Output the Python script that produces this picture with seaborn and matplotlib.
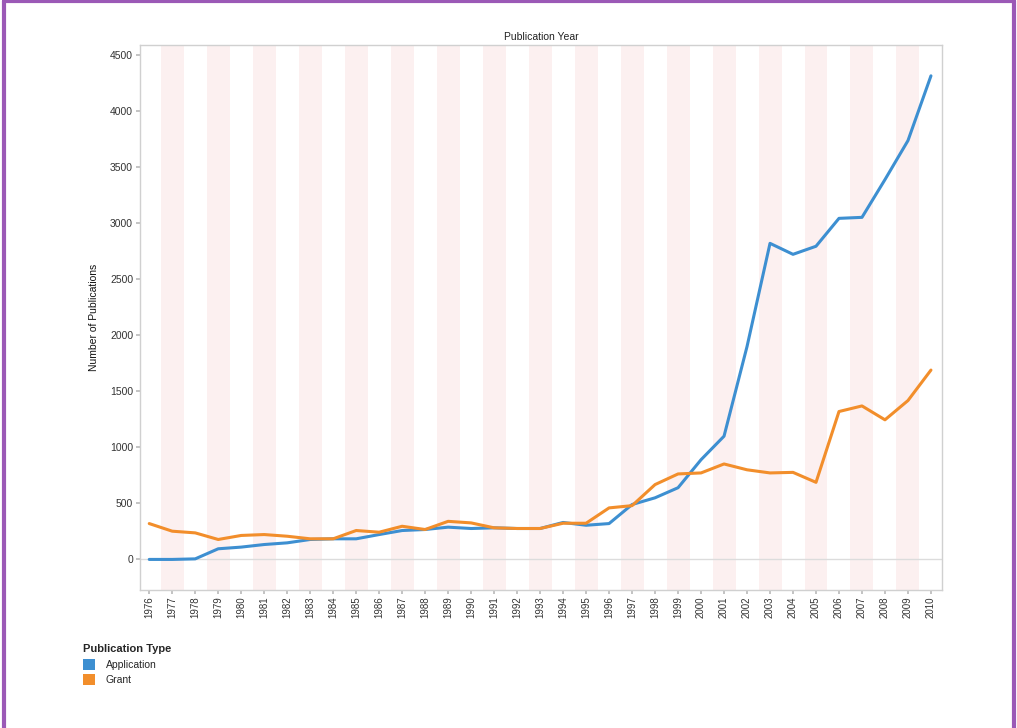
import numpy as np
import pandas as pd
import matplotlib
matplotlib.use('Agg')
import matplotlib.pyplot as plt
from matplotlib.patches import Patch
from matplotlib.lines import Line2D
import seaborn as sns

years = list(range(1976, 2011))
application = [0, 0, 5, 95, 110, 133, 148, 178, 184, 184, 222, 258, 267, 288, 276, 282, 276,
               276, 330, 305, 320, 490, 550, 640, 890, 1100, 1900, 2821, 2723, 2795, 3044,
               3053, 3390, 3738, 4316]
grant = [320, 252, 237, 178, 214, 222, 207, 184, 184, 258, 243, 296, 267, 340, 326, 282, 276,
         276, 323, 323, 460, 480, 668, 763, 772, 852, 800, 772, 777, 688, 1320, 1370, 1246,
         1418, 1690]
type_names = ['Application', 'Grant']
type_colors = ['#3d8fd1', '#f28e2b']
y_ticks = [0, 500, 1000, 1500, 2000, 2500, 3000, 3500, 4000, 4500]

df = pd.DataFrame({
    'Publication Year': years * 2,
    'Number of Publications': application + grant,
    'Publication Type': ['Application'] * len(years) + ['Grant'] * len(years),
})

sns.set_theme(style="white")
plt.rcParams['font.family'] = ['Liberation Sans', 'DejaVu Sans']

fig = plt.figure(figsize=(10.17, 7.28), dpi=100)
ax = fig.add_axes([0.1377, 0.19, 0.789, 0.748])

# alternating year bands
for i, yr in enumerate(years):
    if i % 2 == 1:
        ax.axvspan(yr - 0.5, yr + 0.5, color='#fcf0f0', lw=0, zorder=0)
ax.axhline(0, color='#dcdcdc', lw=1, zorder=1)

sns.lineplot(data=df, x='Publication Year', y='Number of Publications',
             hue='Publication Type', palette=dict(zip(type_names, type_colors)),
             linewidth=2.2, ax=ax, legend=False, zorder=3)

ax.set_xlim(1975.6, 2010.5)
ax.set_ylim(-270, 4590)
ax.set_xticks(years)
ax.set_xticklabels([str(y) for y in years], rotation=90, fontsize=7, color='#333333')
ax.set_yticks(y_ticks)
ax.set_yticklabels([str(v) for v in y_ticks], fontsize=7.5, color='#333333')
ax.tick_params(axis='both', length=3, color='#bbbbbb', pad=2)
ax.tick_params(axis='x', bottom=True)
ax.tick_params(axis='y', left=True)
ax.set_xlabel('')
ax.set_ylabel('Number of Publications', fontsize=7.5, color='#111111', labelpad=8)
ax.set_title('Publication Year', fontsize=7.5, color='#222222', pad=4)
for s in ax.spines.values():
    s.set_color('#d0d0d0')
    s.set_linewidth(1)

handles = [Patch(facecolor=c, edgecolor='none', label=n) for n, c in zip(type_names, type_colors)]
leg = fig.legend(handles=handles, title='Publication Type', loc='upper left',
                 bbox_to_anchor=(0.072, 0.128), frameon=False, fontsize=7.5,
                 title_fontsize=8, handlelength=1.2, handleheight=1.2,
                 handletextpad=1.0, labelspacing=0.45, alignment='left')
leg.get_title().set_fontweight('bold')

# purple frame: left, top and right sides only
frame = dict(transform=fig.transFigure, color='#9b59b6', linewidth=3)
fig.add_artist(Line2D([0.004, 0.004], [0, 0.998], **frame))
fig.add_artist(Line2D([0.004, 0.9975], [0.998, 0.998], **frame))
fig.add_artist(Line2D([0.9975, 0.9975], [0, 0.998], **frame))

fig.savefig('out.png', dpi=100)
